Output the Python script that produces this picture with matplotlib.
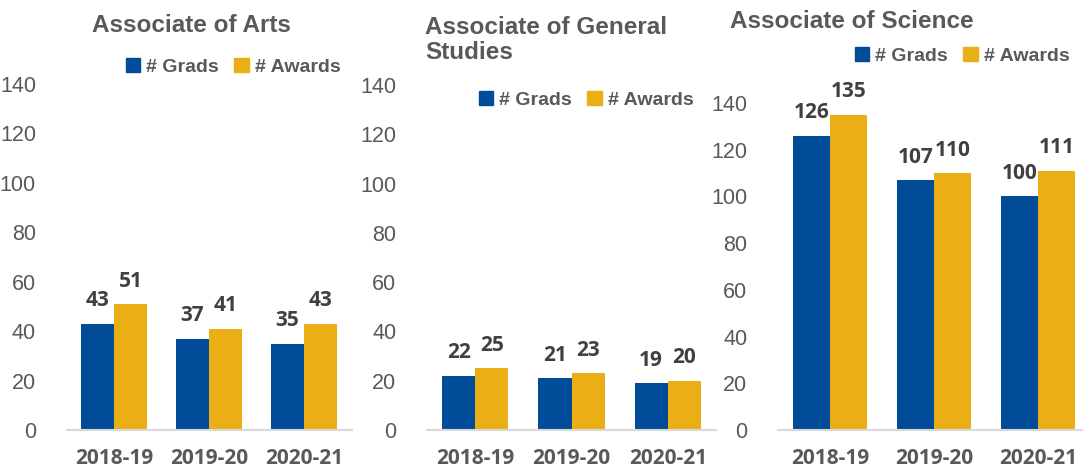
import matplotlib.pyplot as plt
from matplotlib.patches import Patch

years = ["2018-19", "2019-20", "2020-21"]
titles = ["Associate of Arts", "Associate of General\nStudies", "Associate of Science"]
grads = [[43, 37, 35], [22, 21, 19], [126, 107, 100]]
awards = [[51, 41, 43], [25, 23, 20], [135, 110, 111]]

blue = "#004C99"
gold = "#E9AF14"
gray = "#595959"
dark = "#404040"

W, H = 1083, 473
fig = plt.figure(figsize=(W / 100, H / 100), dpi=100)

# axes boxes in pixels: left, right, top (y of 140 tick), bottom (y of 0)
boxes = [(66.5, 351.5, 84, 430), (427, 716, 85, 430), (778, 1083, 103, 430)]
xmax = [2.5, 2.5, 2 + (1083 - 1038) / 104]
bar_w = [0.347, 0.345, 0.356]
title_pos = [(92, 26), (425, 40), (730, 22)]
legend_pos = [(233, 67), (586, 100), (962, 56)]

for i in range(3):
    l, r, t, b = boxes[i]
    ax = fig.add_axes([l / W, 1 - b / H, (r - l) / W, (b - t) / H])
    x = list(range(len(years)))
    w = bar_w[i]
    b1 = ax.bar([v - w / 2 for v in x], grads[i], w, color=blue)
    b2 = ax.bar([v + w / 2 for v in x], awards[i], w, color=gold)
    for bars, vals in ((b1, grads[i]), (b2, awards[i])):
        for bar, v in zip(bars, vals):
            ax.annotate(str(v), (bar.get_x() + bar.get_width() / 2, v),
                        xytext=(0, 12.5), textcoords="offset points",
                        ha="center", va="baseline", fontsize=15,
                        fontweight="bold", color=dark, family="Open Sans",
                        annotation_clip=False)
    ax.set_xlim(-0.5, xmax[i])
    ax.set_ylim(0, 140)
    ax.set_yticks(range(0, 141, 20))
    ax.set_xticks(x)
    ax.set_xticklabels(years, fontsize=15, fontweight="bold", color=gray,
                       family="Open Sans")
    for lab in ax.get_yticklabels():
        lab.set_fontsize(15.5)
        lab.set_color(gray)
        lab.set_family("Liberation Sans")
    ax.tick_params(axis="both", length=0)
    ax.tick_params(axis="x", pad=13)
    ax.tick_params(axis="y", pad=22)
    for s in ("top", "right", "left"):
        ax.spines[s].set_visible(False)
    ax.spines["bottom"].set_color("#D9D9D9")
    ax.spines["bottom"].set_linewidth(1.5)
    ax.patch.set_visible(False)

    tx, ty = title_pos[i]
    fig.text(tx / W, 1 - ty / H, titles[i], fontsize=17.5, fontweight="bold",
             color=gray, family="Liberation Sans", ha="left", va="center",
             linespacing=1.1)

    lx, ly = legend_pos[i]
    handles = [Patch(color=blue, label="# Grads"), Patch(color=gold, label="# Awards")]
    leg = ax.legend(handles=handles, loc="center",
                    bbox_to_anchor=(lx / W, 1 - ly / H),
                    bbox_transform=fig.transFigure, ncol=2, frameon=False,
                    prop={"size": 14, "weight": "bold", "family": "Liberation Sans"},
                    handlelength=0.75, handleheight=0.75, handletextpad=0.3,
                    columnspacing=0.8, borderpad=0, borderaxespad=0)
    for txt in leg.get_texts():
        txt.set_color(gray)

fig.savefig("out.png", dpi=100)
